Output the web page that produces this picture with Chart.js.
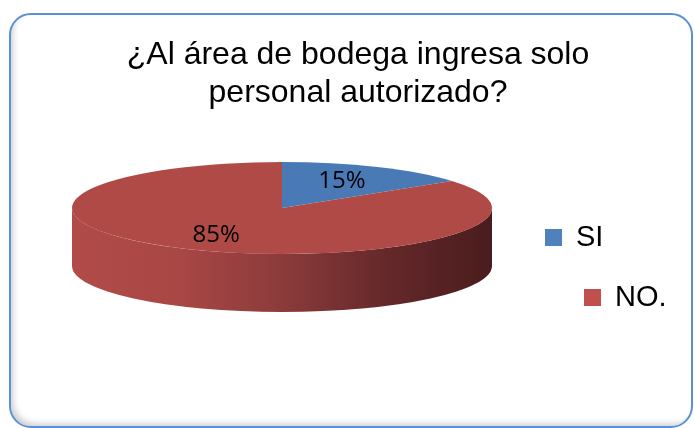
<!DOCTYPE html>
<html lang="es">
<head>
  <meta charset="UTF-8">
  <title>¿Al área de bodega ingresa solo personal autorizado?</title>
  <script src="https://cdn.jsdelivr.net/npm/chart.js"></script>
  <style>
    body {
      margin: 0;
      background: #fff;
    }
    #marco {
      position: absolute;
      left: 9px;
      top: 13px;
      right: 1px;
      bottom: 0;
      border: 2px solid #5b8fd6;
      border-radius: 22px;
      box-shadow: inset 5px -5px 6px -3px rgba(0, 0, 0, 0.2);
    }
    #grafico {
      position: absolute;
      left: 0;
      top: 0;
    }
  </style>
</head>
<body>
  <div id="marco"></div>
  <canvas id="grafico" width="694" height="428"></canvas>

  <script>
    // Datos del gráfico
    const categorias = ['SI', 'NO.'];
    const valores = [15, 85];
    const etiquetas = ['15%', '85%'];
    const coloresCara = ['#4a7ab6', '#b04a47'];
    const coloresLeyenda = ['#4f81bd', '#c0504d'];
    const titulo = ['¿Al área de bodega ingresa solo', 'personal autorizado?'];

    // Pastel en "3D": aplasta las porciones que dibuja Chart.js y les añade el costado
    const pastel3d = {
      id: 'pastel3d',
      beforeDatasetsDraw(chart, args, opts) {
        const ctx = chart.ctx;
        const arcos = chart.getDatasetMeta(0).data;
        const r = arcos[0].outerRadius;
        ctx.save();

        // costado frontal (ángulos entre 0 y PI)
        arcos.forEach((arco, i) => {
          const a0 = Math.max(arco.startAngle, 0);
          const a1 = Math.min(arco.endAngle, Math.PI);
          if (a1 <= a0) return;
          const grad = ctx.createLinearGradient(opts.cx - opts.rx, 0, opts.cx + opts.rx, 0);
          opts.costados[i].forEach((c, k, arr) => grad.addColorStop(k / (arr.length - 1), c));
          ctx.beginPath();
          ctx.ellipse(opts.cx, opts.cy, opts.rx, opts.ry, 0, a0, a1);
          ctx.ellipse(opts.cx, opts.cy + opts.alto, opts.rx, opts.ry, 0, a1, a0, true);
          ctx.closePath();
          ctx.fillStyle = grad;
          ctx.fill();
        });

        // la cara superior la dibuja Chart.js con esta transformación
        ctx.translate(opts.cx, opts.cy);
        ctx.scale(opts.rx / r, opts.ry / r);
        ctx.translate(-arcos[0].x, -arcos[0].y);
      },
      afterDatasetsDraw(chart, args, opts) {
        const ctx = chart.ctx;
        ctx.restore();

        // porcentajes
        const arcos = chart.getDatasetMeta(0).data;
        ctx.save();
        ctx.font = '24px "Open Sans"';
        ctx.fillStyle = '#000';
        ctx.textAlign = 'center';
        ctx.textBaseline = 'middle';
        arcos.forEach((arco, i) => {
          const m = (arco.startAngle + arco.endAngle) / 2;
          const x = opts.cx + opts.factor * opts.rx * Math.cos(m);
          const y = opts.cy + opts.factor * opts.ry * Math.sin(m);
          ctx.fillText(etiquetas[i], x - 3, y);
        });
        ctx.restore();
      }
    };

    // Leyenda escalonada como en la original
    const leyenda = {
      id: 'leyenda',
      afterDraw(chart, args, opts) {
        const ctx = chart.ctx;
        ctx.save();
        ctx.font = '29px "Liberation Sans"';
        ctx.textBaseline = 'middle';
        categorias.forEach((cat, i) => {
          const p = opts.items[i];
          ctx.fillStyle = coloresLeyenda[i];
          ctx.fillRect(p.x, p.y, 17, 17);
          ctx.fillStyle = '#000';
          ctx.fillText(cat, p.x + 31, p.y + 9);
        });
        ctx.restore();
      }
    };

    const ctx = document.getElementById('grafico').getContext('2d');

    new Chart(ctx, {
      type: 'pie',
      data: {
        labels: categorias,
        datasets: [{
          data: valores,
          backgroundColor: coloresCara,
          borderWidth: 0
        }]
      },
      options: {
        responsive: false,
        animation: false,
        layout: { padding: { left: 22 } },
        plugins: {
          legend: { display: false },
          tooltip: { enabled: false },
          title: {
            display: true,
            text: titulo,
            color: '#000',
            font: { family: '"Liberation Sans", Arial, sans-serif', size: 32, weight: 'normal', lineHeight: 1.2 },
            padding: { top: 36, bottom: 10 }
          },
          pastel3d: {
            cx: 282, cy: 208, rx: 210, ry: 46, alto: 58, factor: 0.66,
            costados: [
              ['#4a7ab6', '#3f6a9e', '#2f5078', '#23405f', '#1c3550'],
              ['#b04b48', '#a94745', '#8b3b3b', '#65282a', '#4a1c1d']
            ]
          },
          leyenda: {
            items: [{ x: 545, y: 229 }, { x: 584, y: 289 }]
          }
        }
      },
      plugins: [pastel3d, leyenda]
    });
  </script>
</body>
</html>
